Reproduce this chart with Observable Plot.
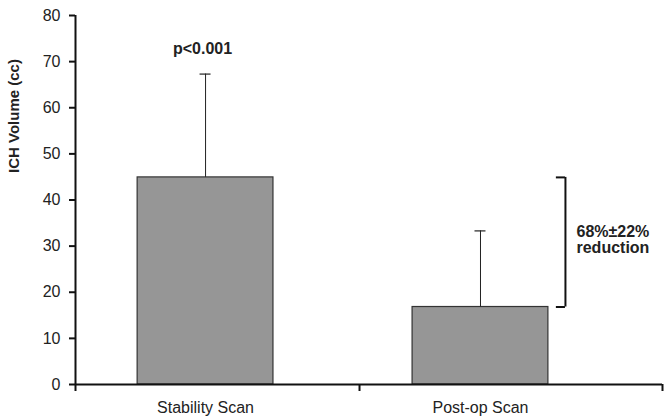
<!DOCTYPE html>
<html>
<head>
<meta charset="utf-8">
<script src="https://cdn.jsdelivr.net/npm/d3@7"></script>
<script src="https://cdn.jsdelivr.net/npm/@observablehq/plot@0.6"></script>
<style>
  html, body { margin: 0; padding: 0; background: #fff; }
  #chart svg { font-family: "Liberation Sans", Arial, sans-serif; }
</style>
</head>
<body>
<div id="chart"></div>
<script>
// Data
const categories = ["Stability Scan", "Post-op Scan"];
const means = [44.9, 16.8];
const errors = [22.4, 16.5];
const yTicks = [0, 10, 20, 30, 40, 50, 60, 70, 80];
const pLabel = "p<0.001";
const reductionLabel = "68%±22%\nreduction";

const data = categories.map((c, i) => ({cat: c, pos: i + 1, mean: means[i], top: means[i] + errors[i]}));

// style constants (in x-scale units)
const halfBar = 0.247;
const capHalf = 0.02;
const xDomain = [0.527, 2.662];
const xSeparators = [xDomain[0], 1.56, xDomain[1]];
const bracketX = 2.309, bracketTickX = 2.276;

const chart = Plot.plot({
  width: 666,
  height: 416,
  marginLeft: 75,
  marginRight: 4,
  marginTop: 15,
  marginBottom: 32,
  x: {domain: xDomain},
  y: {domain: [0, 80]},
  style: {fontFamily: "'Liberation Sans', Arial, sans-serif", fontSize: "16px", color: "#222"},
  marks: [
    Plot.rect(data, {x1: d => d.pos - halfBar, x2: d => d.pos + halfBar, y1: 0, y2: "mean", fill: "#969696", stroke: "#333", strokeWidth: 1.2}),
    Plot.ruleX(data, {x: "pos", y1: "mean", y2: "top", stroke: "#222", strokeWidth: 1}),
    Plot.ruleY(data, {y: "top", x1: d => d.pos - capHalf, x2: d => d.pos + capHalf, stroke: "#222", strokeWidth: 1.2}),
    // bracket between the two means
    Plot.ruleX([0], {x: () => bracketX, y1: () => means[0], y2: () => means[1], stroke: "#111", strokeWidth: 2}),
    Plot.ruleY(means, {y: d => d, x1: () => bracketTickX, x2: () => bracketX, stroke: "#111", strokeWidth: 2}),
    // annotations
    Plot.text([pLabel], {x: () => data[0].pos, y: () => data[0].top, dx: -3, dy: -25, text: d => d, fontWeight: "bold", fontSize: 16, fill: "#222"}),
    Plot.text([reductionLabel], {x: () => data[1].pos, y: () => (means[0] + means[1]) / 2, dx: 96, dy: -2, text: d => d, textAnchor: "start", fontWeight: "bold", fontSize: 16, lineHeight: 1.0, fill: "#222"}),
    Plot.text(["ICH Volume (cc)"], {frameAnchor: "left", rotate: -90, dx: -61, dy: -27, text: d => d, fontWeight: "bold", fontSize: 15, fill: "#222"}),
    // axes
    Plot.axisY({ticks: yTicks, tickSize: 6, tickPadding: 9, strokeWidth: 2, stroke: "#111", fontSize: 16, label: null}),
    Plot.axisX({ticks: [1, 2], tickSize: 0, tickPadding: 17, tickFormat: i => categories[i - 1], fontSize: 16, label: null}),
    Plot.axisX({ticks: xSeparators, tickSize: 7, tickFormat: () => "", strokeWidth: 2, stroke: "#111", label: null}),
    Plot.ruleY([0], {stroke: "#111", strokeWidth: 2}),
    Plot.ruleX([xDomain[0]], {stroke: "#111", strokeWidth: 2})
  ]
});
document.getElementById("chart").appendChild(chart);
</script>
</body>
</html>
